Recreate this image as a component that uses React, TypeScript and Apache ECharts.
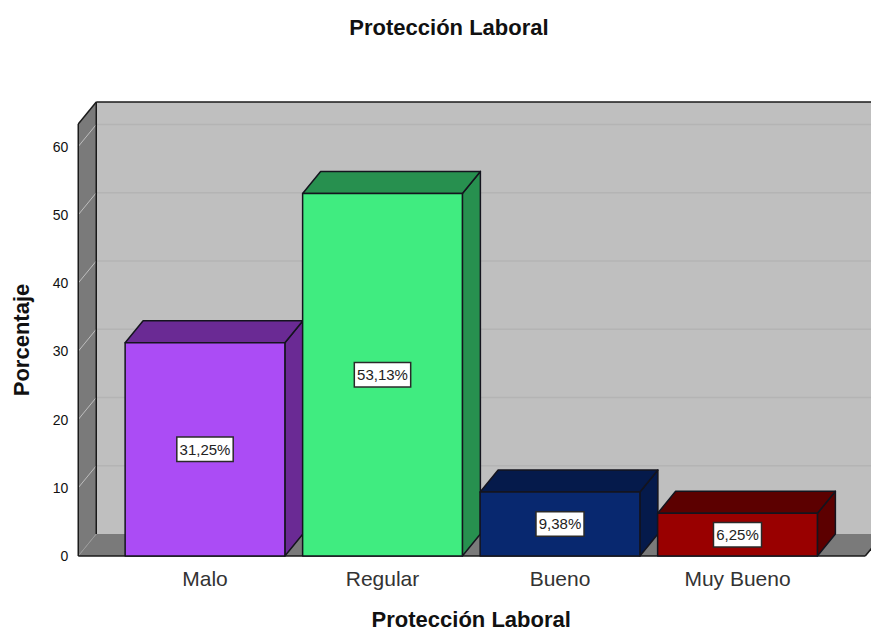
import React, { useEffect, useRef } from "react";
import * as echarts from "echarts";

const titleText = "Protección Laboral";
const xAxisTitle = "Protección Laboral";
const yAxisTitle = "Porcentaje";
const categories = ["Malo", "Regular", "Bueno", "Muy Bueno"];
const percentages = [31.25, 53.13, 9.38, 6.25];
const percentLabels = ["31,25%", "53,13%", "9,38%", "6,25%"];
const frontColors = ["#AB4CF5", "#40EC80", "#08286F", "#990000"];
const darkColors = ["#6A2A94", "#27904F", "#051A4B", "#5C0000"];
const yTicks = [0, 10, 20, 30, 40, 50, 60];
const yMax = 63.3;

const FONT = "'Liberation Sans', Arial, sans-serif";
const DX = 18;
const DY = 22;
const AXIS_OFFSET = 38;
const WALL = "#BFBFBF";
const SIDE = "#7A7A7A";
const EDGE = "#1A1A1A";

function renderWalls(params: any, api: any) {
  const cs = params.coordSys;
  const left = cs.x - AXIS_OFFSET;
  const right = cs.x + cs.width + 39;
  const top = cs.y;
  const bottom = cs.y + cs.height;
  const children: any[] = [
    {
      type: "rect",
      shape: { x: left + DX, y: top - DY, width: right - left + 20, height: bottom - top },
      style: { fill: WALL },
    },
    {
      type: "polygon",
      shape: { points: [[left, top], [left + DX, top - DY], [left + DX, bottom - DY], [left, bottom]] },
      style: { fill: SIDE },
    },
    {
      type: "polygon",
      shape: { points: [[left, bottom], [left + DX, bottom - DY], [right + DX, bottom - DY], [right, bottom]] },
      style: { fill: SIDE },
    },
  ];
  yTicks.forEach((t) => {
    const y = api.coord([0, t])[1];
    if (t > 0) {
      children.push({
        type: "line",
        shape: { x1: left + DX, y1: y - DY, x2: right + DX, y2: y - DY },
        style: { stroke: "#B4B4B4", lineWidth: 1.5 },
      });
    }
    children.push({
      type: "line",
      shape: { x1: left, y1: y, x2: left + DX, y2: y - DY },
      style: { stroke: t === 0 ? "#9A9A9A" : "#BEBEBE", lineWidth: 1 },
    });
  });
  const edge = (x1: number, y1: number, x2: number, y2: number) => ({
    type: "line",
    shape: { x1, y1, x2, y2 },
    style: { stroke: EDGE, lineWidth: 1.5 },
  });
  children.push(
    edge(left, top, left, bottom),
    edge(left + DX, top - DY, left + DX, bottom - DY),
    edge(left, top, left + DX, top - DY),
    edge(left + DX, top - DY, right + DX, top - DY),
    edge(left, bottom, right, bottom),
    edge(right, bottom, right + DX, bottom - DY),
  );
  return { type: "group", children };
}

function renderBar(params: any, api: any) {
  const i = api.value(0);
  const v = api.value(1);
  const [cx, yTop] = api.coord([i, v]);
  const yBase = api.coord([i, 0])[1];
  const w = api.size([1, 0])[0] * 0.9;
  const l = cx - w / 2;
  const r = cx + w / 2;
  const stroke = { stroke: "#14141E", lineWidth: 1.5, lineJoin: "round" };
  return {
    type: "group",
    children: [
      {
        type: "polygon",
        shape: { points: [[r, yTop], [r + DX, yTop - DY], [r + DX, yBase - DY], [r, yBase]] },
        style: { fill: darkColors[i], ...stroke },
      },
      {
        type: "polygon",
        shape: { points: [[l, yTop], [l + DX, yTop - DY], [r + DX, yTop - DY], [r, yTop]] },
        style: { fill: darkColors[i], ...stroke },
      },
      {
        type: "rect",
        shape: { x: l, y: yTop, width: w, height: yBase - yTop },
        style: { fill: frontColors[i], ...stroke },
      },
      {
        type: "text",
        x: cx,
        y: (yTop + yBase) / 2,
        style: {
          text: percentLabels[i],
          fill: "#222222",
          font: `15px ${FONT}`,
          align: "center",
          verticalAlign: "middle",
          backgroundColor: "#FFFFFF",
          borderColor: "#2A2A2A",
          borderWidth: 1.5,
          padding: [4, 2, 4, 2],
        },
      },
    ],
  };
}

export default function App() {
  const ref = useRef<HTMLDivElement>(null);
  useEffect(() => {
    document.body.style.margin = "0";
    const chart = echarts.init(ref.current!, undefined, { renderer: "svg" });
    chart.setOption({
      animation: false,
      backgroundColor: "#FFFFFF",
      title: {
        text: titleText,
        left: 444,
        top: 11,
        textAlign: "center",
        textStyle: { fontFamily: FONT, fontSize: 22, fontWeight: "bold", color: "#111111" },
      },
      grid: { left: 116.25, right: 44.75, top: 124, bottom: 74, outerBoundsMode: "none" },
      xAxis: {
        type: "category",
        data: categories,
        name: xAxisTitle,
        nameLocation: "middle",
        nameGap: 52,
        nameTextStyle: { fontFamily: FONT, fontSize: 22, fontWeight: "bold", color: "#111111" },
        axisLine: { show: false },
        axisTick: { show: false },
        axisLabel: { fontFamily: FONT, fontSize: 21, color: "#333333", margin: 12 },
      },
      yAxis: {
        type: "value",
        min: 0,
        max: yMax,
        offset: AXIS_OFFSET,
        name: yAxisTitle,
        nameLocation: "middle",
        nameGap: 46,
        nameTextStyle: { fontFamily: FONT, fontSize: 22, fontWeight: "bold", color: "#111111" },
        axisLine: { show: false },
        axisTick: { show: false },
        splitLine: { show: false },
        axisLabel: {
          fontFamily: FONT,
          fontSize: 14,
          color: "#111111",
          margin: 10,
          padding: [4, 0, 0, 0],
          customValues: yTicks,
        },
      },
      series: [
        {
          type: "custom",
          silent: true,
          z: 1,
          data: [[0, 0]],
          encode: { x: 0, y: 1 },
          renderItem: renderWalls,
        },
        {
          type: "custom",
          silent: true,
          z: 2,
          data: percentages.map((v, i) => [i, v]),
          encode: { x: 0, y: 1 },
          renderItem: renderBar,
        },
      ],
    });
    return () => chart.dispose();
  }, []);
  return <div ref={ref} style={{ width: 871, height: 630 }} />;
}
